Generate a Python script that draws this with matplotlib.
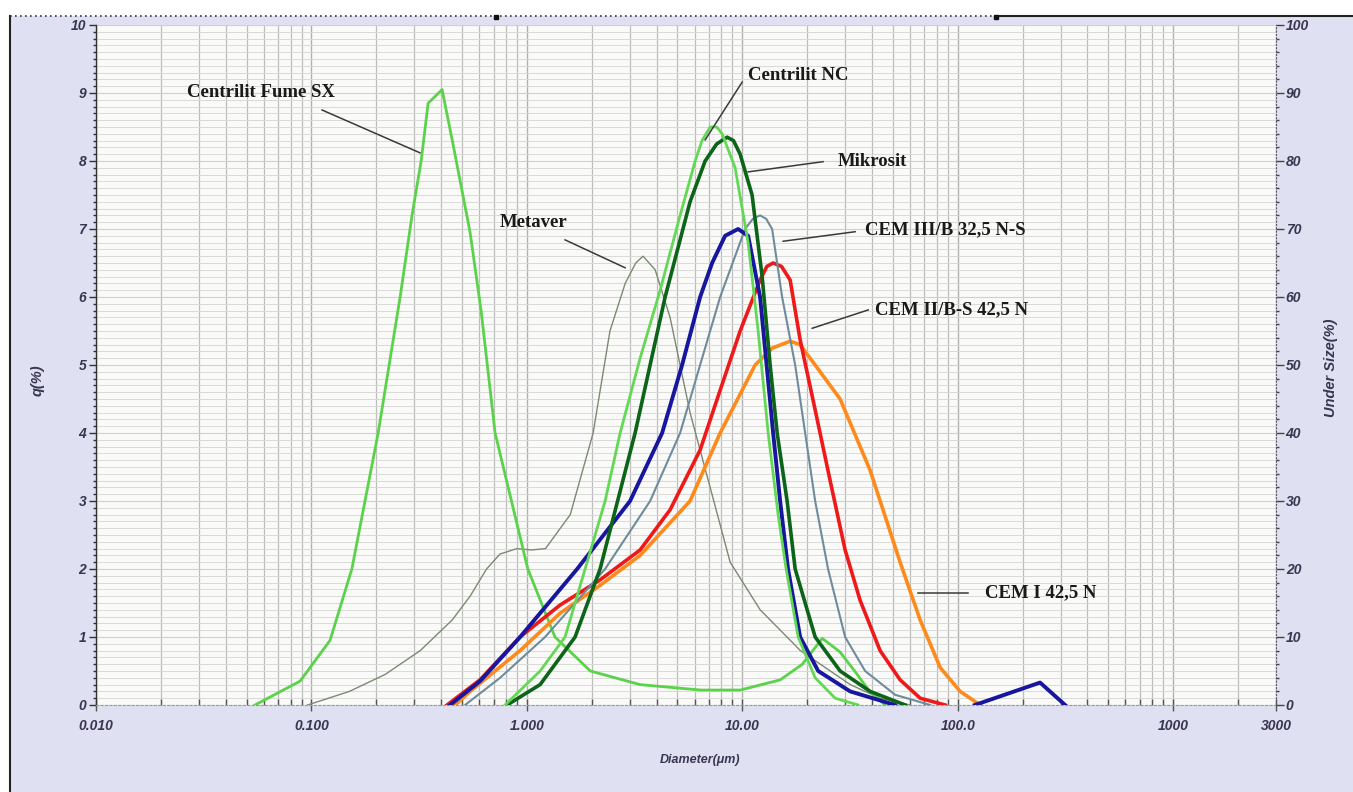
import numpy as np
import matplotlib
matplotlib.use("Agg")
import matplotlib.pyplot as plt
from matplotlib.patches import Rectangle
from matplotlib.lines import Line2D
from matplotlib.ticker import FixedLocator, FixedFormatter, NullFormatter

# ---------------- data (diameter in µm, q in %) ----------------
fume_x = [0.0547, 0.0885, 0.122, 0.154, 0.204, 0.258, 0.293, 0.323, 0.348, 0.404, 0.454, 0.545,
          0.613, 0.712, 1.01, 1.35, 1.97, 3.35, 6.4, 9.8, 15.0, 19.0, 23.5, 28.4, 33.4, 39.2, 46.0]
fume_q = [0, 0.35, 0.95, 2.0, 4.0, 6.0, 7.2, 8.0, 8.85, 9.05, 8.25, 6.95,
          5.8, 4.0, 2.0, 1.0, 0.5, 0.3, 0.22, 0.22, 0.37, 0.6, 0.98, 0.78, 0.49, 0.19, 0]

metaver_x = [0.096, 0.15, 0.22, 0.32, 0.45, 0.545, 0.65, 0.75, 0.9, 1.05, 1.22, 1.59, 2.03, 2.43,
             2.86, 3.2, 3.46, 3.94, 4.62, 5.72, 7.09, 8.78, 12.1, 18.6, 31.7, 43.6, 60]
metaver_q = [0, 0.2, 0.45, 0.8, 1.25, 1.6, 2.0, 2.22, 2.3, 2.28, 2.3, 2.8, 4.0, 5.5,
             6.2, 6.5, 6.6, 6.4, 5.7, 4.3, 3.2, 2.1, 1.4, 0.8, 0.3, 0.1, 0]

nc_x = [0.792, 1.152, 1.504, 1.863, 2.307, 2.709, 3.354, 4.154, 5.143, 6.04, 6.5, 7.09, 7.6, 8.06,
        9.26, 10.64, 11.84, 13.18, 14.66, 15.97, 18.16, 21.78, 26.97, 34.5]
nc_q = [0, 0.5, 1.0, 2.0, 3.0, 4.0, 5.1, 6.1, 7.2, 8.0, 8.3, 8.5, 8.5, 8.4,
        7.9, 6.8, 5.5, 4.0, 2.8, 2.0, 1.0, 0.4, 0.1, 0]

mikrosit_x = [0.809, 1.152, 1.674, 2.187, 3.179, 4.382, 5.72, 6.72, 7.6, 8.50, 9.1, 9.77, 11.1,
              12.36, 13.46, 14.51, 16.14, 17.59, 21.78, 28.44, 39.2, 57.0]
mikrosit_q = [0, 0.3, 1.0, 2.0, 4.0, 6.0, 7.4, 8.0, 8.25, 8.35, 8.3, 8.1, 7.5,
              6.3, 5.0, 4.0, 3.0, 2.0, 1.0, 0.5, 0.2, 0]

blue_x = [0.44, 0.606, 0.930, 1.711, 3.013, 4.244, 5.254, 6.37, 7.24, 8.32, 9.56, 10.64,
          12.09, 13.9, 14.98, 16.3, 18.55, 22.5, 31.66, 51.2]
blue_q = [0, 0.35, 1.0, 2.0, 3.0, 4.0, 5.0, 6.0, 6.5, 6.9, 7.0, 6.9,
          6.0, 4.0, 3.0, 2.0, 1.0, 0.5, 0.2, 0]
blue2_x = [120, 241, 315]
blue2_q = [0, 0.33, 0]

cem3_x = [0.5165, 0.751, 1.215, 2.307, 3.733, 5.143, 6.37, 7.89, 10.3, 11.2, 12.09, 12.9, 13.75,
          15.30, 17.59, 19.57, 21.78, 25.0, 30.0, 37.16, 51.2, 74.5]
cem3_q = [0, 0.4, 1.0, 2.0, 3.0, 4.0, 5.0, 6.0, 7.0, 7.15, 7.2, 7.15, 7.0,
          6.0, 5.0, 4.0, 3.0, 2.0, 1.0, 0.5, 0.15, 0]

cem2_x = [0.426, 0.606, 0.93, 1.426, 2.187, 3.354, 4.62, 6.37, 7.89, 9.77, 12.09, 13.0, 13.9,
          15.2, 16.67, 18.55, 21.78, 25.56, 30.0, 35.2, 43.6, 54.0, 66.9, 87.4]
cem2_q = [0, 0.37, 1.0, 1.47, 1.84, 2.28, 2.87, 3.75, 4.63, 5.5, 6.25, 6.45, 6.5,
          6.45, 6.25, 5.37, 4.34, 3.3, 2.28, 1.54, 0.8, 0.37, 0.1, 0]

cem1_x = [0.464, 0.545, 0.93, 1.426, 2.187, 3.354, 5.72, 7.89, 11.47, 13.8, 16.67, 18.5, 20.64,
          28.44, 39.2, 54.0, 66.9, 82.9, 102.6, 127]
cem1_q = [0, 0.2, 0.8, 1.35, 1.76, 2.2, 3.0, 4.0, 5.0, 5.25, 5.35, 5.3, 5.1,
          4.5, 3.45, 2.1, 1.25, 0.55, 0.2, 0]

x_ticks = [0.01, 0.1, 1, 10, 100, 1000, 3000]
x_ticklabels = ['0.010', '0.100', '1.000', '10.00', '100.0', '1000', '3000']
left_ticks = list(range(0, 11))
right_ticks = list(range(0, 101, 10))

# ---------------- figure ----------------
W, H = 1353, 792
fig = plt.figure(figsize=(W / 100, H / 100), dpi=100, facecolor='white')

def fx(px):
    return px / W

def fy(py):
    return 1 - py / H

# lavender panel with dark left/top frame
fig.patches.append(Rectangle((fx(10), 0), 1, fy(16), transform=fig.transFigure,
                             facecolor='#dfe1f2', edgecolor='none', zorder=-10))
fig.lines.append(Line2D([fx(10), fx(10)], [0, fy(16)], transform=fig.transFigure,
                        color='#222222', lw=1.5, zorder=-5))
fig.lines.append(Line2D([fx(10), fx(996)], [fy(16), fy(16)], transform=fig.transFigure,
                        color='#333333', lw=1.2, ls=(0, (1, 2)), zorder=-5))
fig.lines.append(Line2D([fx(996), 1], [fy(16), fy(16)], transform=fig.transFigure,
                        color='#222222', lw=1.5, zorder=-5))
for mx in (496, 996):
    fig.lines.append(Line2D([fx(mx)], [fy(17)], transform=fig.transFigure,
                            marker='s', ms=3.5, color='#111111', lw=0, zorder=-5))

ax = fig.add_axes([fx(96), fy(705), fx(1276) - fx(96), fy(25) - fy(705)])
ax.set_zorder(1)
ax.set_facecolor('#fafaf8')
ax.set_xscale('log')
ax.set_xlim(0.01, 3000)
ax.set_ylim(0, 10)

# grid
ax.set_yticks(np.arange(0, 10.001, 0.1), minor=True)
ax.grid(which='minor', axis='y', color='#d9d9d9', lw=0.7)
ax.grid(which='major', axis='y', color='#d0d0d0', lw=0.8)
minor_x = [m * 10.0 ** e for e in range(-2, 4) for m in range(2, 10) if m * 10.0 ** e <= 3000]
ax.xaxis.set_minor_locator(FixedLocator(minor_x))
ax.xaxis.set_minor_formatter(NullFormatter())
ax.grid(which='minor', axis='x', color='#bdbdbd', lw=0.9)
ax.grid(which='major', axis='x', color='#b0b0b0', lw=1.0)
ax.set_axisbelow(True)

tick_font = dict(family='Liberation Sans', style='italic', weight='bold', size=10)
lab_color = '#3a3550'
ax.xaxis.set_major_locator(FixedLocator(x_ticks))
ax.xaxis.set_major_formatter(FixedFormatter(x_ticklabels))
ax.set_yticks(left_ticks)
ax.set_yticklabels([str(t) for t in left_ticks])
for lab in ax.get_xticklabels() + ax.get_yticklabels():
    lab.set_fontproperties(matplotlib.font_manager.FontProperties(**tick_font))
    lab.set_color(lab_color)
ax.tick_params(axis='x', which='major', direction='inout', length=8, width=1, color='#555555', pad=6)
ax.tick_params(axis='x', which='minor', direction='in', length=4, width=1, color='#555555')
ax.tick_params(axis='y', which='major', direction='out', length=5, width=1, color='#333333', pad=2)
ax.tick_params(axis='y', which='minor', direction='out', length=2, width=1, color='#333333')
for s in ('top', 'right'):
    ax.spines[s].set_visible(False)
ax.spines['left'].set_color('#333333')
ax.spines['left'].set_linewidth(1.0)
ax.spines['bottom'].set_color('#9a9a9a')
ax.spines['bottom'].set_linestyle((0, (2, 2)))

ax2 = ax.twinx()
ax2.set_ylim(0, 100)
ax2.set_yticks(right_ticks)
ax2.set_yticklabels([str(t) for t in right_ticks])
ax2.set_yticks(np.arange(0, 100.01, 2), minor=True)
for lab in ax2.get_yticklabels():
    lab.set_fontproperties(matplotlib.font_manager.FontProperties(**tick_font))
    lab.set_color(lab_color)
ax2.tick_params(axis='y', which='major', direction='out', length=6, width=1, color='#444444', pad=1)
ax2.tick_params(axis='y', which='minor', direction='out', length=2, width=1, color='#444444')
for s in ('top', 'left', 'bottom'):
    ax2.spines[s].set_visible(False)
ax2.spines['right'].set_color('#555555')
ax2.spines['right'].set_linestyle((0, (1, 2)))

# ---------------- curves ----------------
ax.plot(metaver_x, metaver_q, color='#7b8a72', lw=1.0, zorder=3)
ax.plot(fume_x, fume_q, color='#5ad24a', lw=2.0, zorder=4)
ax.plot(cem1_x, cem1_q, color='#ff8a1c', lw=2.6, zorder=4)
ax.plot(cem2_x, cem2_q, color='#ee1a1a', lw=2.6, zorder=5)
ax.plot(cem3_x, cem3_q, color='#6f8c9c', lw=1.5, zorder=5)
ax.plot(blue_x, blue_q, color='#16169e', lw=2.8, zorder=6)
ax.plot(blue2_x, blue2_q, color='#16169e', lw=2.8, zorder=6)
ax.plot(mikrosit_x, mikrosit_q, color='#0b6418', lw=2.6, zorder=6)
ax.plot(nc_x, nc_q, color='#62d855', lw=2.0, zorder=6)

# ---------------- annotations ----------------
ann_font = dict(family='Liberation Serif', weight='bold', size=13.5, color='#1a1a1a')
labels = [
    ('Centrilit Fume SX', (0.0265, 9.01), [(0.112, 8.75), (0.319, 8.12)]),
    ('Centrilit NC', (10.64, 9.26), [(9.98, 9.16), (6.72, 8.31)]),
    ('Mikrosit', (27.85, 7.99), [(23.7, 7.99), (10.64, 7.84)]),
    ('Metaver', (0.751, 7.09), [(1.504, 6.84), (2.857, 6.43)]),
    ('CEM III/B 32,5 N-S', (37.2, 6.99), [(33.4, 6.96), (15.47, 6.82)]),
    ('CEM II/B-S 42,5 N', (41.4, 5.81), [(38.4, 5.81), (21.1, 5.54)]),
    ('CEM I 42,5 N', (134, 1.65), [(65.5, 1.65), (111.8, 1.65)]),
]
for text, pos, seg in labels:
    ax.text(pos[0], pos[1], text, ha='left', va='center', zorder=8, **ann_font)
    ax.plot([seg[0][0], seg[1][0]], [seg[0][1], seg[1][1]], color='#3a3a3a', lw=1.1, zorder=8)

# axis titles
fig.text(fx(38), fy(380), 'q(%)', rotation=90, ha='center', va='center',
         family='Liberation Sans', style='italic', weight='bold', size=10.5, color=lab_color)
fig.text(fx(1331), fy(368), 'Under Size(%)', rotation=90, ha='center', va='center',
         family='Liberation Sans', style='italic', weight='bold', size=10.5, color=lab_color)
fig.text(fx(700), fy(760), 'Diameter(μm)', ha='center', va='center',
         family='Liberation Sans', style='italic', weight='bold', size=9, color=lab_color)

fig.savefig('out.png', dpi=100, facecolor='white')
